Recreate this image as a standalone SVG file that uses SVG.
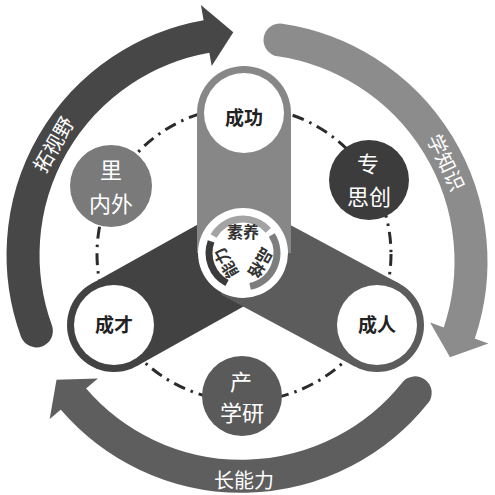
<svg xmlns="http://www.w3.org/2000/svg" width="495" height="495" viewBox="0 0 495 495">
<style>
.t{font-family:"Noto Sans CJK SC","Noto Sans",sans-serif;text-anchor:middle;dominant-baseline:central}
.w{fill:#ffffff}
.nd{fill:#222222;font-size:19px;font-weight:600}
.sat{fill:#ffffff;font-size:22px}
.arr{fill:#ffffff;font-size:20px}
.ctr{font-size:16px;fill:#333333;font-weight:bold}
.band{fill:none;stroke-width:33;stroke-linecap:round}
.ring{fill:none;stroke-width:7}
</style>
<rect width="495" height="495" fill="#ffffff"/>
<g id="connectors">
  <circle cx="244" cy="254" r="147" fill="none" stroke="#2b2b2b" stroke-width="3" stroke-dasharray="12 6 2.5 6"/>
</g>
<g id="arrow-tuoshiye">
  <path class="band" stroke="#474747" d="M36.4,330.9 A222,222 0 0 1 206.5,36.4"/>
  <polygon fill="#474747" points="211.7,65.9 200.9,4.9 233.3,32.3"/>
  <text class="t arr" transform="translate(52.7,144) rotate(-60)">拓视野</text>
</g>
<g id="arrow-xuezhishi">
  <path class="band" stroke="#8c8c8c" d="M280,40 A224,224 0 0 1 459.3,333"/>
  <polygon fill="#8c8c8c" points="430.1,322.4 488.4,343.6 450,357.2"/>
  <text class="t arr" transform="translate(447,162) rotate(65)">学知识</text>
</g>
<g id="arrow-zhangnengli">
  <path class="band" stroke="#5e5e5e" d="M415.2,392.8 A222,222 0 0 1 73.4,399"/>
  <polygon fill="#5e5e5e" points="97.9,378.4 49.7,418.9 56.5,379.7"/>
  <text class="t arr" x="244" y="479">长能力</text>
</g>
<g id="arm-left">
  <line x1="114" y1="325" x2="243" y2="253" stroke="#424242" stroke-width="94"/>
  <circle cx="114" cy="325" r="47" fill="#424242"/>
</g>
<g id="arm-right">
  <line x1="377" y1="325" x2="243" y2="253" stroke="#5c5c5c" stroke-width="94"/>
  <circle cx="377" cy="325" r="47" fill="#5c5c5c"/>
</g>
<g id="arm-top">
  <line x1="244" y1="113" x2="244" y2="253" stroke="#878787" stroke-width="94"/>
  <circle cx="244" cy="113" r="47" fill="#878787"/>
</g>
<g id="node-chenggong">
  <circle cx="244" cy="113" r="40" class="w"/>
  <text class="t nd" x="244" y="116">成功</text>
</g>
<g id="node-chengcai">
  <circle cx="114" cy="325" r="40" class="w"/>
  <text class="t nd" x="114" y="323">成才</text>
</g>
<g id="node-chengren">
  <circle cx="377" cy="325" r="40" class="w"/>
  <text class="t nd" x="377" y="323">成人</text>
</g>
<g id="node-center">
  <circle cx="243" cy="253" r="45" class="w"/>
  <path class="ring" stroke="#a3a3a3" d="M213.6,236 A34,34 0 0 1 268.3,230.3"/>
  <path class="ring" stroke="#7d7d7d" d="M271.8,235 A34,34 0 0 1 250.1,286.3"/>
  <path class="ring" stroke="#3a3a3a" d="M227,283 A34,34 0 0 1 211.1,241.4"/>
  <text class="t ctr" x="243" y="231">素养</text>
  <text class="t ctr" x="243" y="232" transform="rotate(120 243 253)">品格</text>
  <text class="t ctr" x="243" y="232" transform="rotate(240 243 253)">能力</text>
</g>
<g id="sat-neiwai">
  <circle cx="111" cy="186" r="41" fill="#7a7a7a"/>
  <text class="t sat" x="111" y="168">里</text>
  <text class="t sat" x="111" y="202">内外</text>
</g>
<g id="sat-zhuansichuang">
  <circle cx="369" cy="180" r="40" fill="#3c3c3c"/>
  <text class="t sat" x="368" y="162">专</text>
  <text class="t sat" x="369" y="195">思创</text>
</g>
<g id="sat-chanxueyan">
  <circle cx="242" cy="396" r="40" fill="#5a5a5a"/>
  <text class="t sat" x="241" y="380">产</text>
  <text class="t sat" x="242" y="411">学研</text>
</g>
</svg>
